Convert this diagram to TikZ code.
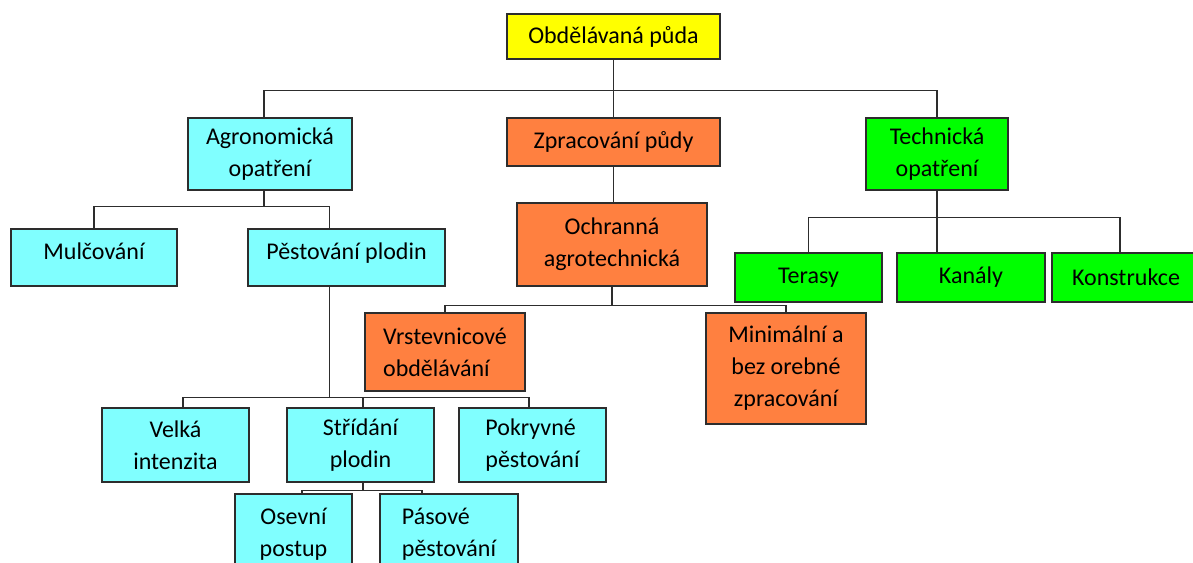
\documentclass[tikz,border=0pt]{standalone}
\usepackage{fontspec}
\setmainfont{Carlito}
\usepackage{tikz}
\usepackage{xcolor}
\definecolor{boxyellow}{RGB}{255,255,0}
\definecolor{boxcyan}{RGB}{128,255,255}
\definecolor{boxorange}{RGB}{255,128,64}
\definecolor{boxgreen}{RGB}{0,255,0}
\definecolor{linegray}{RGB}{45,45,45}
\tikzset{
  box/.style={draw=linegray, line width=1.2pt, inner sep=0pt, align=center,
    font=\fontsize{24}{32}\selectfont},
  ybox/.style={box, fill=boxyellow},
  cbox/.style={box, fill=boxcyan},
  obox/.style={box, fill=boxorange},
  gbox/.style={box, fill=boxgreen},
  conn/.style={draw=linegray, line width=1.4pt}
}
\begin{document}
\begin{tikzpicture}[x=1pt,y=-1pt]
\useasboundingbox (0,0) rectangle (1193,562);
\clip (0,0) rectangle (1193,562);
\node[ybox, minimum width=213, minimum height=45] (puda) at (613.5,36.5) {Obdělávaná půda};
\node[cbox, minimum width=164, minimum height=72] (agro) at (270,154) {Agronomická\\opatření};
\node[obox, minimum width=213, minimum height=48] (zprac) at (613.5,142) {Zpracování půdy};
\node[gbox, minimum width=142, minimum height=72] (tech) at (937,154) {Technická\\opatření};
\node[cbox, minimum width=166, minimum height=57, text depth=12pt] (mulc) at (94,257.5) {Mulčování};
\node[cbox, minimum width=197, minimum height=57, text depth=12pt] (pest) at (346.5,257.5) {Pěstování plodin};
\node[obox, minimum width=190, minimum height=83] (ochr) at (612,244.5) {Ochranná\\agrotechnická};
\node[gbox, minimum width=147, minimum height=49] (teras) at (808.5,277.5) {Terasy};
\node[gbox, minimum width=148, minimum height=49] (kanal) at (971,277.5) {Kanály};
\node[gbox, minimum width=148, minimum height=49] (konstr) at (1126,277.5) {Konstrukce};
\node[obox, minimum width=160, minimum height=78, align=left] (vrst) at (445,352) {Vrstevnicové\\obdělávání};
\node[obox, minimum width=160, minimum height=111] (mini) at (786,368.5) {Minimální a\\bez orebné\\zpracování};
\node[cbox, minimum width=147, minimum height=74] (velka) at (175.5,445) {Velká\\intenzita};
\node[cbox, minimum width=147, minimum height=74] (strid) at (360.5,445) {Střídání\\plodin};
\node[cbox, minimum width=147, minimum height=74, align=left] (pokr) at (532.5,445) {Pokryvné\\pěstování};
\node[cbox, minimum width=117, minimum height=80] (osev) at (293.5,534) {Osevní\\postup};
\node[cbox, minimum width=138, minimum height=80, align=left] (pas) at (449,534) {Pásové\\pěstování};
\draw[conn] (puda.south) -- (zprac.north);
\draw[conn] ([xshift=-6pt]agro.north) -- ++(0,-27) -| (tech.north);
\draw[conn] ([xshift=-6pt]agro.south) -- ++(0,16) coordinate (ab);
\draw[conn] (mulc.north) |- (ab) -| ([xshift=-17pt]pest.north);
\draw[conn] (zprac.south) -- (zprac.south |- ochr.north);
\draw[conn] (tech.south) -- ++(0,27) coordinate (tb) -- (tech.south |- kanal.north);
\draw[conn] (teras.north) |- (tb) -| ([xshift=-6pt]konstr.north);
\draw[conn] (ochr.south) -- ++(0,19) coordinate (ob);
\draw[conn] (vrst.north) |- (ob) -| (mini.north);
\draw[conn] ([xshift=-17pt]pest.south) -- ++(0,111) coordinate (pb);
\draw[conn] ([xshift=7.5pt]velka.north) |- (pb) -| ([xshift=-3.5pt]pokr.north);
\draw[conn] ([xshift=2.5pt]strid.north) -- ([xshift=2.5pt]strid.north |- pb);
\draw[conn] ([xshift=2.5pt]strid.south) -- ++(0,8) coordinate (sb);
\draw[conn] ([xshift=8.5pt]osev.north) |- (sb) -| ([xshift=-27pt]pas.north);
\end{tikzpicture}
\end{document}
